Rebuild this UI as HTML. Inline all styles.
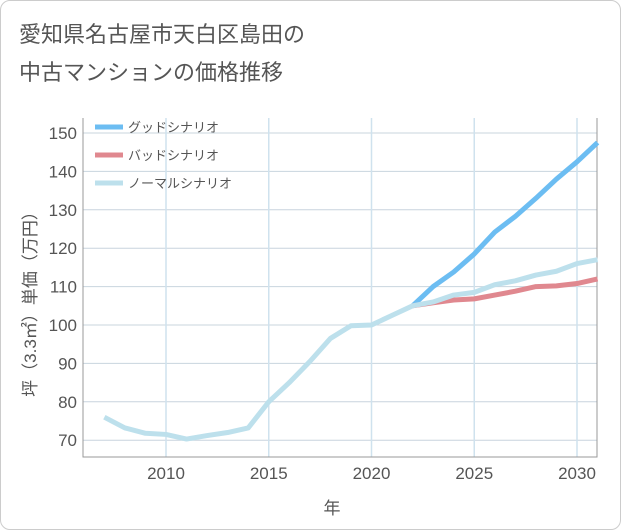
<!DOCTYPE html>
<html><head><meta charset="utf-8"><style>
body{margin:0;background:#fff;}
#card{position:absolute;left:0;top:0;width:619px;height:528px;border:1px solid #ccc;border-radius:10px;background:#fff;}
.t{position:absolute;left:18px;font:22px "Liberation Sans","Noto Sans CJK JP",sans-serif;color:#555;}
svg text{font-family:"Liberation Sans","Noto Sans CJK JP",sans-serif;}
</style></head><body>
<div id="card">
<div class="t" style="top:16px">愛知県名古屋市天白区島田の</div>
<div class="t" style="top:54px">中古マンションの価格推移</div>
</div>
<svg id="chart" width="621" height="530" style="position:absolute;left:0;top:0"></svg>
<script>
const years=[2007,2008,2009,2010,2011,2012,2013,2014,2015,2016,2017,2018,2019,2020,2021,2022,2023,2024,2025,2026,2027,2028,2029,2030,2031];
const normal=[76,73.2,71.8,71.5,70.3,71.2,72,73.2,80,85,90.5,96.5,99.8,100,102.5,105,106,107.8,108.5,110.5,111.5,113,114,116,117];
const goodYears=[2022,2023,2024,2025,2026,2027,2028,2029,2030,2031];
const good=[105,110,113.8,118.5,124.2,128.3,133,138,142.5,147.5];
const bad=[105,105.8,106.5,106.8,107.8,108.8,110,110.2,110.8,112];
const xTicks=[2010,2015,2020,2025,2030];
const yTicks=[70,80,90,100,110,120,130,140,150];
const NS='http://www.w3.org/2000/svg';
const svg=document.getElementById('chart');
const L=83,R=597,T=118,B=457;
const x=v=>166+(v-2010)*20.55;
const y=v=>325-(v-100)*3.84;
function mk(tag,a,parent){const e=document.createElementNS(NS,tag);for(const k in a)e.setAttribute(k,a[k]);(parent||svg).appendChild(e);return e;}
for(const t of yTicks){
 const l=mk('line',{x1:L,x2:R,y1:y(t),y2:y(t),stroke:'#c8d4de','stroke-width':1});
 
 
 const tx=mk('text',{x:L-6,y:y(t)+6,'text-anchor':'end','font-size':17,fill:'#555'});tx.textContent=t;
 
 
}
for(const t of xTicks){
 const l=mk('line',{x1:x(t),x2:x(t),y1:T,y2:B,stroke:'#cfe2ee','stroke-width':1.5});
 
 
 const tx=mk('text',{x:x(t),y:B+22,'text-anchor':'middle','font-size':17,fill:'#555'});tx.textContent=t;
 
 
}
const ax=mk('path',{d:`M${L},${T}V${B}H${R}V${T}`,fill:'none',stroke:'#999','stroke-width':1});


function line(xs,vs,c,name){const p=mk('polyline',{points:xs.map((v,i)=>x(v)+','+y(vs[i])).join(' '),fill:'none',stroke:c,'stroke-width':5,'stroke-linejoin':'round'});
 
 }
line(goodYears,good,'#6cbdf2','good-scenario-line');
line(goodYears,bad,'#e0888f','bad-scenario-line');
line(years,normal,'#bde0ec','normal-scenario-line');
const leg=[['グッドシナリオ','#6cbdf2',127],['バッドシナリオ','#e0888f',155],['ノーマルシナリオ','#bde0ec',183]];
for(const [n,c,yy] of leg){
 const g=mk('g',{});
 
 
 mk('line',{x1:95,x2:123,y1:yy,y2:yy,stroke:c,'stroke-width':5},g);
 const tx=mk('text',{x:128,y:yy+5,'font-size':13,fill:'#555'},g);tx.textContent=n;
}
const xt=mk('text',{x:332,y:514,'text-anchor':'middle','font-size':17,fill:'#555'});xt.textContent='年';


const yt=mk('text',{x:0,y:0,'text-anchor':'middle','font-size':17,fill:'#555',transform:'translate(36,300) rotate(-90)'});yt.textContent='坪（3.3㎡）単価（万円）';


</script>
</body></html>
